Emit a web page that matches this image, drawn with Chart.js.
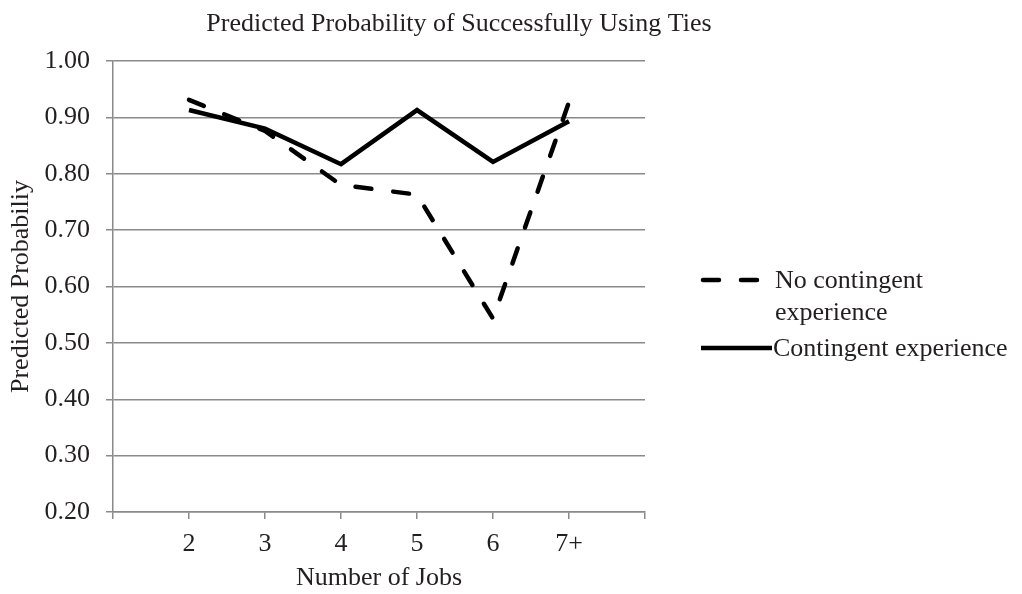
<!DOCTYPE html>
<html>
<head>
<meta charset="utf-8">
<script src="https://cdn.jsdelivr.net/npm/chart.js@4/dist/chart.umd.min.js"></script>
<style>
  html, body { margin: 0; padding: 0; background: #ffffff; }
  #wrap { width: 1022px; height: 594px; position: relative; }
</style>
</head>
<body>
<div id="wrap"><canvas id="c" width="1022" height="594"></canvas></div>
<script>
// ---- data ----
const categories = ['2', '3', '4', '5', '6', '7+'];
const noContingent = [0.931, 0.876, 0.780, 0.763, 0.543, 0.927];
const contingent   = [0.913, 0.880, 0.817, 0.913, 0.821, 0.893];
const yTicks = [0.20, 0.30, 0.40, 0.50, 0.60, 0.70, 0.80, 0.90, 1.00];
const seriesNames = ['No contingent experience', 'Contingent experience'];
const legendLines = [['No contingent', 'experience'], ['Contingent experience']];
const chartTitle = 'Predicted Probability of Successfully Using Ties';
const xTitle = 'Number of Jobs';
const yTitle = 'Predicted Probabiliy';

const FONT = "'Liberation Serif', 'Times New Roman', serif";
const TEXT = '#231f20';
const GRID = '#8a8a8a';

// category axis with a blank slot at each end (as in the original)
const labels = [''].concat(categories, ['']);
const pad = arr => [null].concat(arr, [null]);

const titleLegendPlugin = {
  id: 'titleLegend',
  afterDraw(chart) {
    const ctx = chart.ctx;
    ctx.save();
    ctx.fillStyle = TEXT;
    ctx.font = '26px ' + FONT;
    ctx.textAlign = 'center';
    ctx.textBaseline = 'alphabetic';
    ctx.fillText(chartTitle, 459, 31);

    // legend
    const ds = chart.data.datasets;
    const rows = [
      { y: 288, x0: 701, x1: 766, tx: 775 },
      { y: 356, x0: 701, x1: 772, tx: 773 }
    ];
    ds.forEach((d, i) => {
      const r = rows[i];
      const lineY = r.y - 8;
      ctx.beginPath();
      ctx.strokeStyle = d.borderColor;
      ctx.lineWidth = d.borderWidth;
      ctx.lineCap = d.borderCapStyle || 'butt';
      ctx.setLineDash(d.borderDash || []);
      ctx.moveTo(r.x0 + (d.borderDash && d.borderDash.length ? 2 : 0), lineY);
      ctx.lineTo(r.x1, lineY);
      ctx.stroke();
      ctx.setLineDash([]);
      ctx.textAlign = 'left';
      ctx.fillStyle = TEXT;
      legendLines[i].forEach((t, k) => {
        ctx.fillText(t, r.tx, r.y + k * 32);
      });
    });
    ctx.restore();
  }
};

new Chart(document.getElementById('c'), {
  type: 'line',
  data: {
    labels: labels,
    datasets: [
      {
        label: seriesNames[0],
        data: pad(noContingent),
        borderColor: '#000000',
        borderWidth: 4.5,
        borderDash: [16, 22],
        borderCapStyle: 'round',
        borderJoinStyle: 'round',
        pointRadius: 0,
        tension: 0,
        fill: false
      },
      {
        label: seriesNames[1],
        data: pad(contingent),
        borderColor: '#000000',
        borderWidth: 4.5,
        borderCapStyle: 'butt',
        borderJoinStyle: 'miter',
        pointRadius: 0,
        tension: 0,
        fill: false
      }
    ]
  },
  options: {
    responsive: false,
    animation: false,
    devicePixelRatio: 1,
    layout: { padding: { top: 61, right: 377, left: 0, bottom: 0 } },
    plugins: {
      legend: { display: false },
      title: { display: false },
      tooltip: { enabled: false }
    },
    scales: {
      x: {
        type: 'category',
        offset: false,
        grid: {
          display: true,
          drawOnChartArea: false,
          drawTicks: true,
          tickLength: 7,
          color: GRID,
          lineWidth: 1.5
        },
        border: { display: true, color: GRID, width: 1.5 },
        ticks: {
          autoSkip: false,
          maxRotation: 0,
          padding: 10,
          color: TEXT,
          font: { family: FONT, size: 26 }
        },
        title: {
          display: true,
          text: xTitle,
          color: TEXT,
          font: { family: FONT, size: 26 },
          padding: { top: 0, bottom: 0 }
        },
        afterFit(scale) { scale.height = 82; }
      },
      y: {
        type: 'linear',
        min: yTicks[0],
        max: yTicks[yTicks.length - 1],
        afterBuildTicks(scale) { scale.ticks = yTicks.map(v => ({ value: v })); },
        grid: {
          display: true,
          drawOnChartArea: true,
          drawTicks: true,
          tickLength: 7,
          color: GRID,
          lineWidth: 1.5
        },
        border: { display: true, color: GRID, width: 1.5 },
        ticks: {
          padding: 16,
          color: TEXT,
          font: { family: FONT, size: 26 },
          callback: v => Number(v).toFixed(2)
        },
        title: {
          display: true,
          text: yTitle,
          color: TEXT,
          font: { family: FONT, size: 26 },
          padding: { top: 6, bottom: 0 }
        },
        afterFit(scale) { scale.width = 113; }
      }
    }
  },
  plugins: [titleLegendPlugin]
});
</script>
</body>
</html>
